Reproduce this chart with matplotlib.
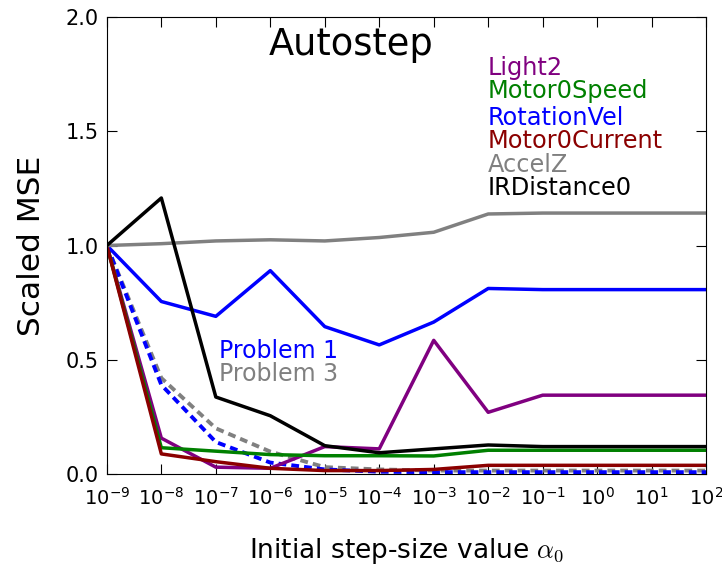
import numpy as np
import matplotlib
matplotlib.use('Agg')
import matplotlib.pyplot as plt

plt.rcParams['mathtext.fontset'] = 'cm'
plt.rcParams['font.family'] = ['DejaVu Sans']

# 初始步长取值
alpha0 = [1e-9, 1e-8, 1e-7, 1e-6, 1e-5, 1e-4, 1e-3, 1e-2, 1e-1, 1e0, 1e1, 1e2]

# Problem 1 (实线)
light2 = [1.0, 0.157, 0.03, 0.025, 0.12, 0.11, 0.585, 0.27, 0.345, 0.345, 0.345, 0.345]
motor0speed = [1.0, 0.115, 0.10, 0.085, 0.08, 0.08, 0.079, 0.104, 0.104, 0.104, 0.104, 0.104]
rotationvel = [1.0, 0.755, 0.69, 0.89, 0.645, 0.565, 0.665, 0.812, 0.807, 0.807, 0.807, 0.807]
motor0current = [1.0, 0.088, 0.054, 0.025, 0.015, 0.015, 0.02, 0.038, 0.038, 0.038, 0.038, 0.038]
accelz = [1.0, 1.008, 1.02, 1.025, 1.02, 1.035, 1.058, 1.138, 1.142, 1.142, 1.142, 1.142]
irdistance0 = [1.0, 1.208, 0.337, 0.255, 0.124, 0.093, 0.11, 0.127, 0.12, 0.12, 0.12, 0.12]

# Problem 3 (虚线)
rotationvel_p3 = [1.0, 0.39, 0.14, 0.05, 0.02, 0.01, 0.008, 0.008, 0.008, 0.008, 0.008, 0.008]
accelz_p3 = [1.0, 0.42, 0.20, 0.098, 0.03, 0.02, 0.015, 0.015, 0.015, 0.015, 0.015, 0.015]

names = ['Light2', 'Motor0Speed', 'RotationVel', 'Motor0Current', 'AccelZ', 'IRDistance0']
colors = ['purple', 'green', 'blue', 'darkred', 'gray', 'black']
series = [light2, motor0speed, rotationvel, motor0current, accelz, irdistance0]

fig = plt.figure(figsize=(7.22, 5.67), dpi=100)
ax = fig.add_axes([0.148, 0.164, 0.830, 0.806])

ax.plot(alpha0, accelz_p3, c='gray', lw=2.8, ls=(0, (2, 1.3)))
ax.plot(alpha0, rotationvel_p3, c='blue', lw=2.8, ls=(0, (2, 1.3)))
for s, c in zip(series, colors):
    ax.plot(alpha0, s, c=c, lw=2.5)

ax.set_xscale('log')
ax.set_xlim(1e-9, 1e2)
ax.set_ylim(0, 2.0)
ax.set_xticks(alpha0)
ax.set_yticks([0, 0.5, 1.0, 1.5, 2.0])
ax.set_yticklabels(['0.0', '0.5', '1.0', '1.5', '2.0'])
ax.tick_params(which='both', direction='in', top=True, right=True)
ax.tick_params(axis='y', labelsize=15, pad=6)
ax.tick_params(axis='x', labelsize=14, pad=9)
ax.tick_params(which='major', length=7)
ax.tick_params(which='minor', length=3.5)

ax.set_ylabel('Scaled MSE', fontsize=22.5, labelpad=14)
ax.set_xlabel(r'Initial step-size value $\alpha_0$', fontsize=19, labelpad=20)

# 标题与图例文字
ax.text(0.407, 0.94, 'Autostep', transform=ax.transAxes, fontsize=26.5, ha='center', va='center')
legend_y = [68, 91, 118, 141, 165, 188]
for n, c, yp in zip(names, colors, legend_y):
    fig.text(488 / 722, 1 - yp / 567, n, color=c, fontsize=17.3, ha='left', va='center')
fig.text(219 / 722, 1 - 351 / 567, 'Problem 1', color='blue', fontsize=17, ha='left', va='center')
fig.text(219 / 722, 1 - 374 / 567, 'Problem 3', color='gray', fontsize=17, ha='left', va='center')

fig.savefig('out.png', dpi=100)
